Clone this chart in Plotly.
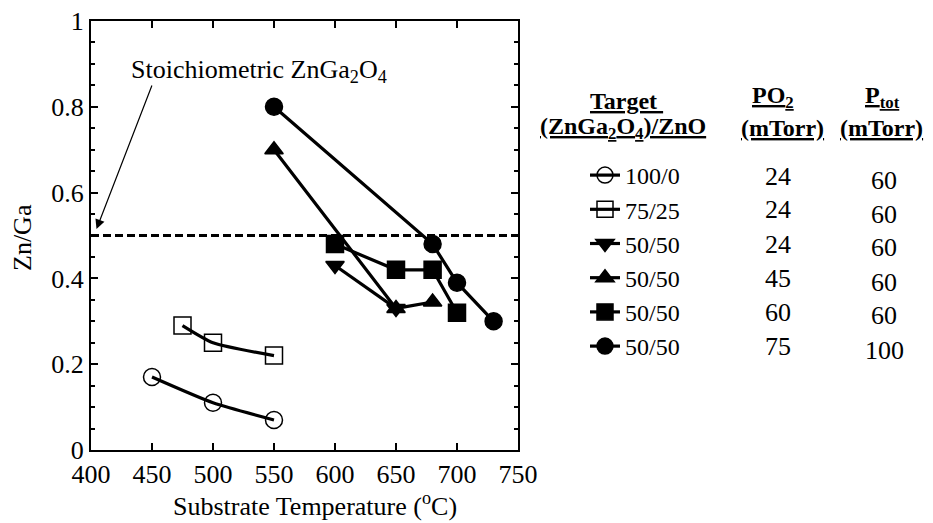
import plotly.graph_objects as go

# ---------------- data ----------------
t_100_0 = [450, 500, 550]
r_100_0 = [0.17, 0.11, 0.07]

t_75_25 = [475, 500, 550]
r_75_25 = [0.29, 0.25, 0.22]

t_50_24 = [600, 650]
r_50_24 = [0.43, 0.33]

t_50_45 = [550, 650, 680]
r_50_45 = [0.70, 0.33, 0.345]

t_50_60 = [600, 650, 680, 700]
r_50_60 = [0.48, 0.42, 0.42, 0.32]

t_50_75 = [550, 680, 700, 730]
r_50_75 = [0.80, 0.48, 0.39, 0.30]

series_names = ["100/0", "75/25", "50/50", "50/50", "50/50", "50/50"]
po2_values = ["24", "24", "24", "45", "60", "75"]
ptot_values = ["60", "60", "60", "60", "60", "100"]

stoich_ratio = 0.5
x_ticks = [400, 450, 500, 550, 600, 650, 700, 750]
y_ticks = [0, 0.2, 0.4, 0.6, 0.8, 1]
y_tick_text = ["0", "0.2", "0.4", "0.6", "0.8", "1"]

# ---------------- layout helpers ----------------
W, H = 933, 523
ML, MR, MT, MB = 91, 415, 21, 73
PW, PH = W - ML - MR, H - MT - MB
FONT = "Liberation Serif"


def px_x(px):
    return (px - ML) / PW


def px_y(py):
    return (H - MB - py) / PH


fig = go.Figure()

specs = [
    (t_100_0, r_100_0, "circle-open", 17, "spline"),
    (t_75_25, r_75_25, "square-open", 17, "spline"),
    (t_50_24, r_50_24, "triangle-down", 16, "linear"),
    (t_50_45, r_50_45, "triangle-up", 16, "linear"),
    (t_50_60, r_50_60, "square", 17, "linear"),
    (t_50_75, r_50_75, "circle", 17, "linear"),
]
for i, (xs, ys, sym, sz, shape) in enumerate(specs):
    fig.add_trace(go.Scatter(
        x=xs, y=ys, mode="lines+markers", name=series_names[i],
        line=dict(color="black", width=3.2, shape=shape, smoothing=0.6),
        marker=dict(symbol=sym, size=sz, color="black",
                    line=dict(color="black", width=1.5)),
    ))

fig.add_shape(type="line", xref="x", yref="y", x0=400, x1=750,
              y0=stoich_ratio, y1=stoich_ratio,
              line=dict(color="black", width=2.8, dash="8px,4px"))

ann = []


def add_text(xp, yp, text, size, **kw):
    d = dict(xref="paper", yref="paper", x=px_x(xp), y=px_y(yp),
             xanchor="center", yanchor="middle", showarrow=False, text=text,
             font=dict(size=size, family=FONT, color="black"))
    d.update(kw)
    ann.append(d)


# stoichiometric label and arrow
add_text(129, 71, "Stoichiometric ZnGa<sub>2</sub>O<sub>4</sub>", 26, xanchor="left")
ann.append(dict(xref="x", yref="y", x=404.5, y=stoich_ratio + 0.015,
                ax=56, ay=-145, axref="pixel", ayref="pixel",
                showarrow=True, arrowhead=2, arrowsize=1.6, arrowwidth=1.2,
                arrowcolor="black", text=""))
# axis titles
add_text(315, 504, "Substrate Temperature (<sup>o</sup>C)", 26)
add_text(22, 238, "Zn/Ga", 26, textangle=-90)
# table headers
HS = 24
add_text(626, 101, "<b><u>Target </u></b>", HS)
add_text(623, 128, "<b><u>(ZnGa<sub>2</sub>O<sub>4</sub>)/ZnO</u></b>", HS)
add_text(773, 97, "<b><u>PO<sub>2</sub></u></b>", HS)
add_text(782, 128, "<b><u>(mTorr)</u></b>", HS)
add_text(882, 97, "<b><u>P<sub>tot</sub></u></b>", HS)
add_text(881, 128, "<b><u>(mTorr)</u></b>", HS)
# table values
row0, drow = 176, 34
for i in range(len(po2_values)):
    add_text(778, row0 + i * drow, po2_values[i], 26)
    add_text(884, row0 + 4 + i * drow, ptot_values[i], 26)

axis_common = dict(showline=True, linecolor="black", linewidth=2, mirror="ticks",
                   ticks="inside", tickcolor="black", tickwidth=2, ticklen=7,
                   showgrid=False, zeroline=False,
                   tickfont=dict(size=26, family=FONT, color="black"))

fig.update_layout(
    width=W, height=H,
    margin=dict(l=ML, r=MR, t=MT, b=MB, autoexpand=False),
    paper_bgcolor="white", plot_bgcolor="white",
    font=dict(family=FONT, color="black"),
    xaxis=dict(range=[400, 750], tickvals=x_ticks, ticktext=[str(v) for v in x_ticks],
               **axis_common),
    yaxis=dict(range=[0, 1], tickvals=y_ticks, ticktext=y_tick_text,
               minor=dict(ticks="inside", ticklen=4, tickcolor="black", dtick=0.05),
               **axis_common),
    showlegend=True,
    legend=dict(x=px_x(585), y=px_y(153), xanchor="left", yanchor="top",
                bgcolor="rgba(0,0,0,0)", tracegroupgap=0,
                font=dict(size=24, family=FONT, color="black")),
    annotations=ann,
)

fig.write_html("out.html")
